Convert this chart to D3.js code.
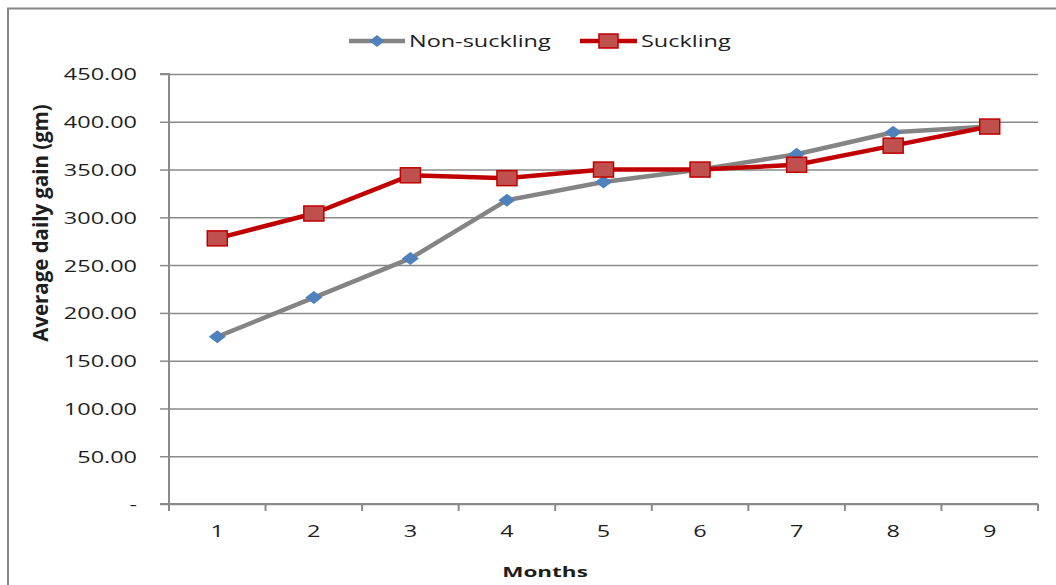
<!DOCTYPE html>
<html>
<head>
<meta charset="utf-8">
<script src="https://cdn.jsdelivr.net/npm/d3@7/dist/d3.min.js"></script>
<style>
  html, body { margin: 0; padding: 0; background: #fff; }
  svg { display: block; }
  text { font-family: "Open Sans", "Noto Sans", sans-serif; fill: #1e1e1e; }
</style>
</head>
<body>
<svg id="chart" width="1056" height="585"></svg>
<script>
// Months and average daily gain (gm) for the two calf groups
const months = ["1", "2", "3", "4", "5", "6", "7", "8", "9"];
const nonSuckling = [175, 216, 257, 318, 337, 350, 366, 389, 395];
const suckling = [278, 304, 344, 341, 350, 350, 355, 375, 395];
const yTicks = [0, 50, 100, 150, 200, 250, 300, 350, 400, 450];
const seriesNames = ["Non-suckling", "Suckling"];

const W = 1056, H = 585;
const plot = { left: 169, right: 1038, top: 74, bottom: 504 };
const textStretch = 1.38;   // wide glyph proportions of the labels

const svg = d3.select("#chart");

// outer frame (top and left edges)
svg.append("path")
  .attr("d", `M8,${H} V8.5 H${W}`)
  .attr("fill", "none")
  .attr("stroke", "#878787")
  .attr("stroke-width", 2);

const x = d3.scaleBand().domain(months).range([plot.left, plot.right]).padding(0);
const y = d3.scaleLinear().domain([0, 450]).range([plot.bottom, plot.top]);

// horizontal gridlines
svg.append("g")
  .attr("transform", `translate(${plot.left},0)`)
  .call(d3.axisLeft(y).tickValues(yTicks).tickSize(-(plot.right - plot.left)).tickFormat(""))
  .call(g => g.select(".domain").remove())
  .call(g => g.selectAll("line").attr("stroke", "#8a8a8a").attr("stroke-width", 1.5));

// y axis with labels
const yAxis = svg.append("g")
  .attr("transform", `translate(${plot.left},0)`)
  .call(d3.axisLeft(y).tickValues(yTicks).tickSize(9).tickPadding(0)
    .tickFormat(d => d === 0 ? "-" : d.toFixed(2)));
yAxis.select(".domain").attr("stroke", "#8a8a8a").attr("stroke-width", 2)
  .attr("d", `M-9,${y(450)}H0V${y(0)}H-9`);
yAxis.selectAll("line").attr("stroke", "#8a8a8a").attr("stroke-width", 1.5);
yAxis.selectAll("text")
  .attr("x", -32 / textStretch)
  .attr("dy", "0.35em")
  .attr("transform", `scale(${textStretch},1)`)
  .style("font-size", "17px")
  .style("font-family", "'Open Sans', sans-serif")
  .attr("fill", "#1e1e1e");

// x axis: baseline, boundary ticks and centered month labels
const xAxis = svg.append("g").attr("transform", `translate(0,${plot.bottom})`);
xAxis.append("line")
  .attr("x1", plot.left).attr("x2", plot.right)
  .attr("stroke", "#8a8a8a").attr("stroke-width", 2);
const bounds = months.map(m => x(m)).concat([x.range()[1]]);
xAxis.selectAll("line.tick").data(bounds).join("line")
  .attr("class", "tick")
  .attr("x1", d => d).attr("x2", d => d)
  .attr("y1", 0).attr("y2", 7)
  .attr("stroke", "#8a8a8a").attr("stroke-width", 2);
xAxis.selectAll("text.lbl").data(months).join("text")
  .attr("class", "lbl")
  .attr("transform", d => `translate(${x(d) + x.bandwidth() / 2},33) scale(${textStretch},1)`)
  .attr("text-anchor", "middle")
  .style("font-size", "17px")
  .text(d => d);

// axis titles
svg.append("text")
  .attr("transform", "translate(545,577) scale(1.5,1)")
  .attr("text-anchor", "middle")
  .style("font-size", "15px")
  .style("font-weight", "bold")
  .text("Months");

svg.append("text")
  .attr("transform", "translate(48,223) rotate(-90) scale(1.24,1.3)")
  .attr("text-anchor", "middle")
  .style("font-size", "16.5px")
  .style("font-weight", "bold")
  .text("Average daily gain (gm)");

// series lines and markers
const line = d3.line().x((d, i) => x(months[i]) + x.bandwidth() / 2).y(d => y(d));

const diamond = (w, h) => `M0,${-h / 2}L${w / 2},0L0,${h / 2}L${-w / 2},0Z`;

svg.append("path").datum(nonSuckling)
  .attr("d", line)
  .attr("fill", "none")
  .attr("stroke", "#848484")
  .attr("stroke-width", 4.5)
  .attr("stroke-linejoin", "round");

svg.append("path").datum(suckling)
  .attr("d", line)
  .attr("fill", "none")
  .attr("stroke", "#c00000")
  .attr("stroke-width", 4.5)
  .attr("stroke-linejoin", "round");

svg.append("g").selectAll("path").data(nonSuckling).join("path")
  .attr("transform", (d, i) => `translate(${x(months[i]) + x.bandwidth() / 2},${y(d)})`)
  .attr("d", diamond(17, 13))
  .attr("fill", "#4f81bd");

svg.append("g").selectAll("rect").data(suckling).join("rect")
  .attr("x", (d, i) => x(months[i]) + x.bandwidth() / 2 - 10)
  .attr("y", d => y(d) - 7.5)
  .attr("width", 20).attr("height", 15)
  .attr("fill", "#c0504d")
  .attr("stroke", "#c00000")
  .attr("stroke-width", 1.5);

// legend
const legend = svg.append("g").attr("transform", "translate(0,41)");
const items = [
  { name: seriesNames[0], x0: 349, x1: 405, color: "#848484", tx: 409 },
  { name: seriesNames[1], x0: 580, x1: 637, color: "#c00000", tx: 641 }
];
items.forEach((it, k) => {
  const g = legend.append("g");
  g.append("line").attr("x1", it.x0).attr("x2", it.x1)
    .attr("stroke", it.color).attr("stroke-width", 4.5);
  const cx = (it.x0 + it.x1) / 2;
  if (k === 0) {
    g.append("path").attr("transform", `translate(${cx},0)`)
      .attr("d", diamond(15, 12)).attr("fill", "#4f81bd");
  } else {
    g.append("rect").attr("x", cx - 9.5).attr("y", -7).attr("width", 19).attr("height", 14)
      .attr("fill", "#c0504d").attr("stroke", "#c00000").attr("stroke-width", 1.5);
  }
  g.append("text")
    .attr("transform", `translate(${it.tx},0) scale(${textStretch},1)`)
    .attr("dy", "0.35em")
    .style("font-size", "17px")
    .text(it.name);
});
</script>
</body>
</html>
